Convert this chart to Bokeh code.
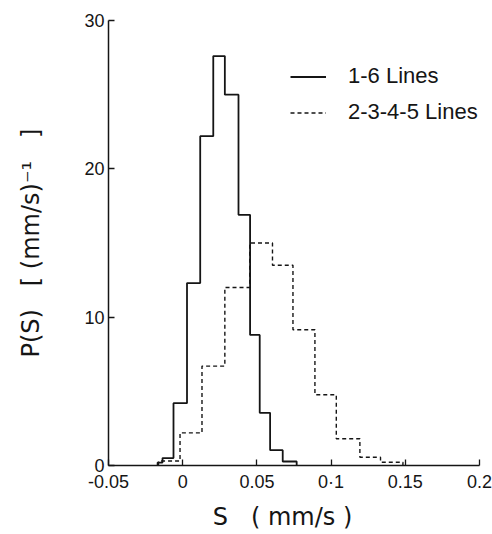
import numpy as np
from bokeh.plotting import figure
from bokeh.models import Range1d, Legend, LegendItem, FixedTicker
from bokeh.embed import file_html
from bokeh.resources import INLINE

# ---- data ----
solid_edges = [-0.0169, -0.0136, -0.0062, 0.0029, 0.0118, 0.0206, 0.0284,
               0.0376, 0.0454, 0.0519, 0.0589, 0.0674, 0.0768]
solid_heights = [0.2, 0.5, 4.2, 12.3, 22.2, 27.6, 25.0, 16.9, 8.8, 3.55, 1.03, 0.27]

dashed_edges = [-0.0163, -0.0018, 0.0130, 0.0284, 0.0452, 0.0605, 0.0743,
                0.0891, 0.1035, 0.1194, 0.1333, 0.1484]
dashed_heights = [0.3, 2.2, 6.7, 12.0, 15.0, 13.5, 9.15, 4.77, 1.8, 0.56, 0.22]

x_ticks = [-0.05, 0, 0.05, 0.1, 0.15, 0.2]
x_tick_labels = ["-0.05", "0", "0.05", "0·1", "0.15", "0.2"]
y_ticks = [0, 10, 20, 30]
series_labels = ["1-6 Lines", "2-3-4-5 Lines"]
NB = "\u00a0"
x_title = "S" + NB * 3 + "(" + NB + "mm/s" + NB + ")" + NB * 3
y_title = "P(S)" + NB * 3 + "[" + NB + "(mm/s)⁻¹" + NB * 3 + "]"


def outline(edges, heights):
    xs = np.repeat(np.asarray(edges, float), 2)
    ys = np.concatenate([[0.0], np.repeat(np.asarray(heights, float), 2), [0.0]])
    return xs, ys


FONT = "Liberation Sans"
TITLE_FONT = "DejaVu Sans"
INK = "#151515"

p = figure(width=492, height=534, output_backend="svg", toolbar_location=None,
           x_range=Range1d(-0.05, 0.2), y_range=Range1d(0, 30),
           min_border_left=108, min_border_right=13, min_border_top=20,
           min_border_bottom=69)
p.outline_line_color = None
p.xgrid.visible = False
p.ygrid.visible = False
p.background_fill_color = "white"
p.border_fill_color = "white"

sx, sy = outline(solid_edges, solid_heights)
dx, dy = outline(dashed_edges, dashed_heights)
r1 = p.line(sx, sy, line_color=INK, line_width=1.8)
r2 = p.line(dx, dy, line_color=INK, line_width=1.4, line_dash="4 3")

for ax in (p.xaxis[0], p.yaxis[0]):
    ax.axis_line_color = INK
    ax.axis_line_width = 1.5
    ax.major_tick_line_color = INK
    ax.major_tick_line_width = 1.3
    ax.major_tick_in = 6
    ax.major_tick_out = 0
    ax.minor_tick_line_color = None
    ax.major_label_text_font = FONT
    ax.major_label_text_font_size = "18px"
    ax.major_label_text_color = INK
    ax.axis_label_text_font = TITLE_FONT
    ax.axis_label_text_font_style = "normal"
    ax.axis_label_text_color = INK

p.xaxis.ticker = FixedTicker(ticks=x_ticks)
p.xaxis.major_label_overrides = {t: l for t, l in zip(x_ticks, x_tick_labels)}
p.xaxis.major_label_standoff = 6
p.xaxis.axis_label = x_title
p.xaxis.axis_label_text_font_size = "24px"
p.xaxis.axis_label_standoff = 8

p.yaxis.ticker = FixedTicker(ticks=y_ticks)
p.yaxis.major_label_standoff = 4
p.yaxis.axis_label = y_title
p.yaxis.axis_label_text_font_size = "24px"
p.yaxis.axis_label_standoff = 36

legend = Legend(items=[LegendItem(label=series_labels[0], renderers=[r1]),
                       LegendItem(label=series_labels[1], renderers=[r2])],
                location=(182, 340), orientation="vertical",
                padding=0, margin=0, spacing=10,
                glyph_width=36, glyph_height=17, label_height=17,
                label_standoff=22,
                label_text_font=FONT, label_text_font_size="22px",
                label_text_color=INK,
                border_line_color=None, background_fill_alpha=0)
p.add_layout(legend, "center")

open("out.html", "w").write(file_html(p, INLINE))
